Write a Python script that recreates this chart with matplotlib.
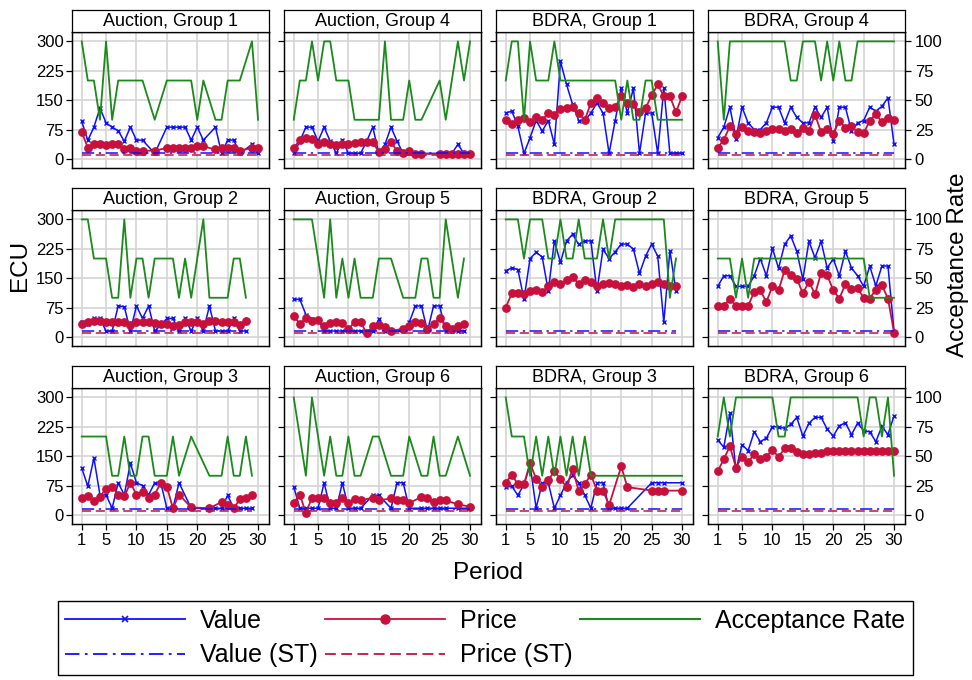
import numpy as np
import matplotlib
matplotlib.use('Agg')
import matplotlib.pyplot as plt
from matplotlib.lines import Line2D

plt.rcParams['font.family'] = ['Liberation Sans', 'DejaVu Sans']

nan = np.nan
periods = list(range(1, 31))
xticks = [1, 5, 10, 15, 20, 25, 30]
ecu_ticks = [0, 75, 150, 225, 300]
rate_ticks = [0, 25, 50, 75, 100]

value_st = 14
price_st = 9

# ---- Auction, Group 1
value_a1 = [96, 47, 81, 130, 92, 81, 72, 45, 81, 48, 48, nan, 14, nan, 81, 81, 81, 81, 48, 81, 48, nan, 81, 14, 48, 48, 14, nan, 37, 14]
price_a1 = [69, 28, 38, 38, 35, 38, 37, 24, 28, 21, 21, nan, 21, nan, 28, 28, 28, 28, 28, 32, 32, nan, 24, 28, 28, 28, 21, nan, 28, 28]
accept_a1 = [100, 66.7, 66.7, 33.3, 100, 33.3, 66.7, 66.7, 66.7, 66.7, 66.7, nan, 33.3, nan, 66.7, 66.7, 66.7, 66.7, 66.7, 33.3, 66.7, nan, 33.3, 33.3, 66.7, 66.7, 66.7, nan, 100, 33.3]
# ---- Auction, Group 4
value_a4 = [14, 45, 81, 81, 45, 81, 45, 14, 48, 14, 14, 14, 45, 81, 14, 37, 81, 45, 14, 14, 14, 14, nan, nan, 14, 14, 14, 37, 14, 14]
price_a4 = [28, 48, 54, 51, 37, 43, 38, 35, 38, 38, 40, 43, 43, 43, 18, 25, 43, 20, 14, 21, 13, 13, nan, nan, 13, 13, 13, 13, 13, 13]
accept_a4 = [33.3, 66.7, 66.7, 100, 66.7, 100, 100, 66.7, 66.7, 66.7, 33.3, 33.3, 33.3, 33.3, 33.3, 100, 33.3, 33.3, 33.3, 66.7, 33.3, 33.3, nan, nan, 66.7, 33.3, 66.7, 100, 66.7, 100]
# ---- BDRA, Group 1
value_b1 = [117, 122, 83, 14, 54, 98, 71, 98, 37, 249, 190, 139, 98, 98, 117, 143, 117, 14, 98, 181, 117, 181, 14, 117, 117, 14, 181, 14, 14, 14]
price_b1 = [99, 89, 99, 105, 94, 106, 100, 116, 111, 128, 130, 133, 116, 99, 143, 156, 143, 130, 132, 160, 143, 139, 119, 130, 162, 190, 160, 160, 119, 160]
accept_b1 = [66.7, 100, 100, 33.3, 100, 66.7, 66.7, 66.7, 100, 66.7, 66.7, 66.7, 66.7, 66.7, 66.7, 66.7, 66.7, 66.7, 66.7, 33.3, 66.7, 33.3, 33.3, 66.7, 66.7, 33.3, 33.3, 33.3, 33.3, 33.3]
# ---- BDRA, Group 4
value_b4 = [54, 81, 132, 52, 132, 92, 75, 75, 92, 132, 132, 92, 132, 106, 92, 92, 132, 106, 132, 45, 132, 132, 71, 92, 98, 132, 122, 134, 156, 37]
price_b4 = [28, 49, 83, 64, 81, 72, 69, 65, 72, 77, 76, 72, 77, 66, 79, 72, 113, 68, 77, 64, 98, 79, 83, 69, 65, 98, 115, 94, 105, 99]
accept_b4 = [100, 33.3, 100, 100, 100, 100, 100, 100, 100, 100, 100, 100, 66.7, 66.7, 100, 100, 100, 66.7, 100, 66.7, 100, 66.7, 66.7, 100, 100, 100, 100, 100, 100, 100]
# ---- Auction, Group 2
value_a2 = [38, 34, 47, 47, 15, 15, 79, 77, 15, 79, 47, 79, 15, 30, 47, 47, 15, 47, 15, 47, 15, 79, 15, 15, 15, 47, 15, 15, nan, nan]
price_a2 = [32, 37, 40, 40, 38, 38, 38, 38, 30, 38, 38, 38, 36, 34, 32, 28, 30, 38, 38, 38, 32, 40, 40, 38, 38, 38, 30, 40, nan, nan]
accept_a2 = [100, 100, 66.7, 66.7, 66.7, 33.3, 33.3, 100, 33.3, 66.7, 66.7, 33.3, 66.7, 66.7, 66.7, 66.7, 33.3, 66.7, 33.3, 66.7, 100, 33.3, 33.3, 33.3, 33.3, 66.7, 66.7, 33.3, nan, nan]
# ---- Auction, Group 5
value_a5 = [96, 96, 57, 45, 45, 15, 15, 15, 15, 15, 15, 15, 15, 15, 45, 15, 15, nan, 15, 37, 79, 79, 15, 79, 79, 15, 15, 15, 15, nan]
price_a5 = [53, 34, 47, 40, 43, 27, 36, 38, 36, 20, 38, 38, 9, 27, 30, 26, 15, nan, 21, 28, 38, 36, 20, 32, 49, 27, 21, 27, 32, nan]
accept_a5 = [100, 100, 100, 100, 66.7, 33.3, 100, 33.3, 66.7, 33.3, 66.7, 33.3, 33.3, 33.3, 66.7, 66.7, 66.7, nan, 33.3, 33.3, 33.3, 66.7, 66.7, 33.3, 33.3, 100, 66.7, 33.3, 66.7, nan]
# ---- BDRA, Group 2
value_b2 = [169, 176, 172, 96, 200, 216, 204, 117, 245, 190, 245, 262, 236, 245, 245, 117, 224, 200, 217, 237, 237, 224, 162, 206, 237, 206, 37, 220, 117, nan]
price_b2 = [75, 111, 113, 109, 118, 121, 115, 130, 139, 134, 145, 152, 136, 144, 141, 130, 134, 138, 135, 130, 132, 128, 134, 130, 136, 141, 135, 130, 130, nan]
accept_b2 = [100, 100, 100, 66.7, 100, 100, 100, 66.7, 66.7, 100, 66.7, 66.7, 100, 66.7, 66.7, 66.7, 100, 66.7, 100, 100, 100, 100, 100, 100, 100, 100, 100, 33.3, 66.7, nan]
# ---- BDRA, Group 5
value_b5 = [129, 156, 156, 129, 129, 129, 156, 200, 156, 226, 175, 236, 258, 219, 147, 244, 202, 244, 176, 199, 156, 219, 176, 156, 129, 181, 130, 181, 181, 13]
price_b5 = [79, 79, 98, 79, 79, 79, 115, 119, 89, 130, 119, 170, 158, 149, 111, 141, 109, 163, 158, 119, 98, 135, 122, 124, 100, 98, 121, 132, 98, 11]
accept_b5 = [66.7, 66.7, 66.7, 33.3, 66.7, 33.3, 66.7, 66.7, 66.7, 66.7, 66.7, 66.7, 66.7, 66.7, 66.7, 66.7, 66.7, 66.7, 66.7, 66.7, 66.7, 66.7, 66.7, 66.7, 66.7, 33.3, 33.3, 33.3, 33.3, 33.3]
# ---- Auction, Group 3
value_a3 = [120, 73, 145, 51, 51, 17, 82, 51, 132, 82, 75, 51, 82, 82, 17, 17, 82, nan, 17, nan, nan, 17, 17, 17, 50, 17, 17, 17, 17, nan]
price_a3 = [44, 48, 35, 46, 67, 72, 52, 47, 82, 52, 59, 44, 52, 82, 72, 17, 52, nan, 19, nan, nan, 17, nan, 33, 25, 17, 40, 42, 52, nan]
accept_a3 = [66.7, 66.7, 66.7, 66.7, 66.7, 33.3, 33.3, 66.7, 33.3, 33.3, 66.7, 66.7, 33.3, 33.3, 33.3, 66.7, 33.3, nan, 66.7, nan, nan, 33.3, 33.3, 33.3, 66.7, 33.3, 33.3, 66.7, 33.3, nan]
# ---- Auction, Group 6
value_a6 = [72, 17, 17, 17, 17, 82, 17, 17, 82, 17, 17, 17, nan, 50, 50, nan, 17, 82, 82, 17, nan, 17, 17, 17, 17, 17, nan, 17, nan, 17]
price_a6 = [31, 52, 5, 44, 43, 42, 31, 31, 42, 31, 40, 37, nan, 44, 37, nan, 42, 37, 37, 30, nan, 46, 42, 33, 37, 37, nan, 27, nan, 21]
accept_a6 = [100, 66.7, 33.3, 100, 66.7, 33.3, 66.7, 33.3, 33.3, 66.7, 33.3, 33.3, nan, 66.7, 66.7, nan, 33.3, 33.3, 33.3, 66.7, nan, 33.3, 33.3, 66.7, 33.3, 33.3, nan, 66.7, nan, 33.3]
# ---- BDRA, Group 3
value_b3 = [71, 73, 50, 78, 128, 17, 82, 82, 17, 50, 82, 101, 82, 50, 17, 82, 82, 17, 17, 17, 17, nan, nan, nan, 82, 82, 82, nan, nan, 82]
price_b3 = [82, 103, 78, 78, 132, 92, 72, 89, 111, 92, 71, 118, 61, 78, 103, 62, 62, 25, nan, 124, 71, nan, nan, nan, 62, 62, 62, nan, nan, 62]
accept_b3 = [100, 66.7, 66.7, 66.7, 33.3, 66.7, 33.3, 66.7, 33.3, 66.7, 33.3, 66.7, 33.3, 66.7, 33.3, 33.3, 33.3, 33.3, 33.3, 33.3, 33.3, 33.3, 33.3, 33.3, 33.3, 33.3, 33.3, 33.3, 33.3, 33.3]
# ---- BDRA, Group 6
value_b6 = [191, 173, 260, 115, 179, 164, 212, 187, 196, 225, 225, 221, 231, 249, 201, 234, 249, 249, 219, 201, 228, 235, 205, 234, 215, 212, 187, 226, 205, 253]
price_b6 = [111, 143, 175, 121, 149, 135, 155, 143, 149, 166, 148, 170, 170, 161, 155, 156, 157, 157, 163, 163, 163, 163, 163, 163, 163, 163, 163, 163, 163, 163]
accept_b6 = [66.7, 100, 66.7, 100, 100, 100, 100, 100, 100, 100, 66.7, 66.7, 100, 100, 100, 100, 100, 100, 100, 100, 100, 100, 100, 100, 66.7, 100, 100, 66.7, 100, 33.3]

titles = ['Auction, Group 1', 'Auction, Group 4', 'BDRA, Group 1', 'BDRA, Group 4',
          'Auction, Group 2', 'Auction, Group 5', 'BDRA, Group 2', 'BDRA, Group 5',
          'Auction, Group 3', 'Auction, Group 6', 'BDRA, Group 3', 'BDRA, Group 6']
values = [value_a1, value_a4, value_b1, value_b4, value_a2, value_a5, value_b2, value_b5,
          value_a3, value_a6, value_b3, value_b6]
prices = [price_a1, price_a4, price_b1, price_b4, price_a2, price_a5, price_b2, price_b5,
          price_a3, price_a6, price_b3, price_b6]
accepts = [accept_a1, accept_a4, accept_b1, accept_b4, accept_a2, accept_a5, accept_b2, accept_b5,
           accept_a3, accept_a6, accept_b3, accept_b6]

C_VALUE = '#0f0fff'
C_PRICE = '#c8103c'
C_ACC = '#1a8a1a'
C_GRID = '#d4d4d4'

W, H = 972, 680
fig = plt.figure(figsize=(W / 100, H / 100), dpi=100)

col_left = [72, 284, 496, 708]
pw = 197
row_top = [31.6, 209.6, 387.6]
ph = 136.7
strip_h = 22


def plot_conn(ax, x, y, **kw):
    x = np.asarray(x, float)
    y = np.asarray(y, float)
    m = ~np.isnan(y)
    return ax.plot(x[m], y[m], **kw)


for i, title in enumerate(titles):
    r, c = divmod(i, 4)
    left = col_left[c]
    top = row_top[r]
    ax = fig.add_axes([left / W, 1 - (top + ph) / H, pw / W, ph / H])
    ax.set_xlim(-0.6, 31.8)
    ax.set_ylim(-24, 325)
    ax.set_xticks(xticks)
    ax.set_yticks(ecu_ticks)
    ax.grid(True, color=C_GRID, lw=1.2)
    ax.set_axisbelow(True)
    for s in ax.spines.values():
        s.set_color('black')
        s.set_linewidth(0.9)
    ax.tick_params(direction='out', length=4, width=0.9, labelsize=12, pad=2)
    if c != 0:
        ax.tick_params(left=False, labelleft=False)
    if r != 2:
        ax.tick_params(bottom=False, labelbottom=False)

    v = values[i]
    p = prices[i]
    a = accepts[i]
    n = max(k for k in range(30) if not (np.isnan(v[k]) and np.isnan(p[k]) and np.isnan(a[k]))) + 1
    px = periods[:n]

    plot_conn(ax, periods, v, color=C_VALUE, lw=1.1, marker='x', ms=3.5, mew=1.0, zorder=3)
    plot_conn(ax, periods, p, color=C_PRICE, lw=1.3, marker='o', ms=5.3, zorder=4)
    ax.plot(px, [value_st] * n, color=C_VALUE, lw=1.1, ls=(0, (8, 3, 1.5, 3)), zorder=5)
    ax.plot(px, [price_st] * n, color=C_PRICE, lw=1.1, ls=(0, (6, 3)), zorder=5)

    ax2 = ax.twinx()
    ax2.set_ylim(-8, 325 / 3)
    ax2.set_yticks(rate_ticks)
    plot_conn(ax2, periods, a, color=C_ACC, lw=1.3)
    ax2.tick_params(direction='out', length=4, width=0.9, labelsize=12, pad=3)
    for s in ax2.spines.values():
        s.set_color('black')
        s.set_linewidth(0.9)
    if c != 3:
        ax2.tick_params(right=False, labelright=False)

    sax = fig.add_axes([left / W, 1 - top / H, pw / W, strip_h / H])
    sax.set_xticks([])
    sax.set_yticks([])
    for s in sax.spines.values():
        s.set_color('black')
        s.set_linewidth(0.9)
    sax.text(0.5, 0.45, title, ha='center', va='center', fontsize=13, transform=sax.transAxes)

fig.text(20 / W, 1 - 265 / H, 'ECU', rotation=90, ha='center', va='center', fontsize=17.5)
fig.text(958 / W, 1 - 265 / H, 'Acceptance Rate', rotation=90, ha='center', va='center', fontsize=17.5)
fig.text(488 / W, 1 - 573 / H, 'Period', ha='center', va='center', fontsize=17.5)

handles = [
    Line2D([], [], color=C_VALUE, lw=1.3, marker='x', ms=5, mew=1.2),
    Line2D([], [], color=C_VALUE, lw=1.3, ls=(0, (8, 3, 1.5, 3))),
    Line2D([], [], color=C_PRICE, lw=1.3, marker='o', ms=6.5),
    Line2D([], [], color=C_PRICE, lw=1.3, ls=(0, (6, 3))),
    Line2D([], [], color=C_ACC, lw=1.5),
]
labels = ['Value', 'Value (ST)', 'Price', 'Price (ST)', 'Acceptance Rate']
leg = fig.legend(handles, labels, ncol=3, loc='center',
                 bbox_to_anchor=(45 / W, 1 - 677 / H, 880 / W, 78 / H), mode='expand',
                 fontsize=18, handlelength=4.8, handletextpad=0.6, labelspacing=0.42,
                 borderpad=0.3, fancybox=False, framealpha=1, edgecolor='black')
leg.get_frame().set_linewidth(1.0)

fig.savefig('out.png', dpi=100)
